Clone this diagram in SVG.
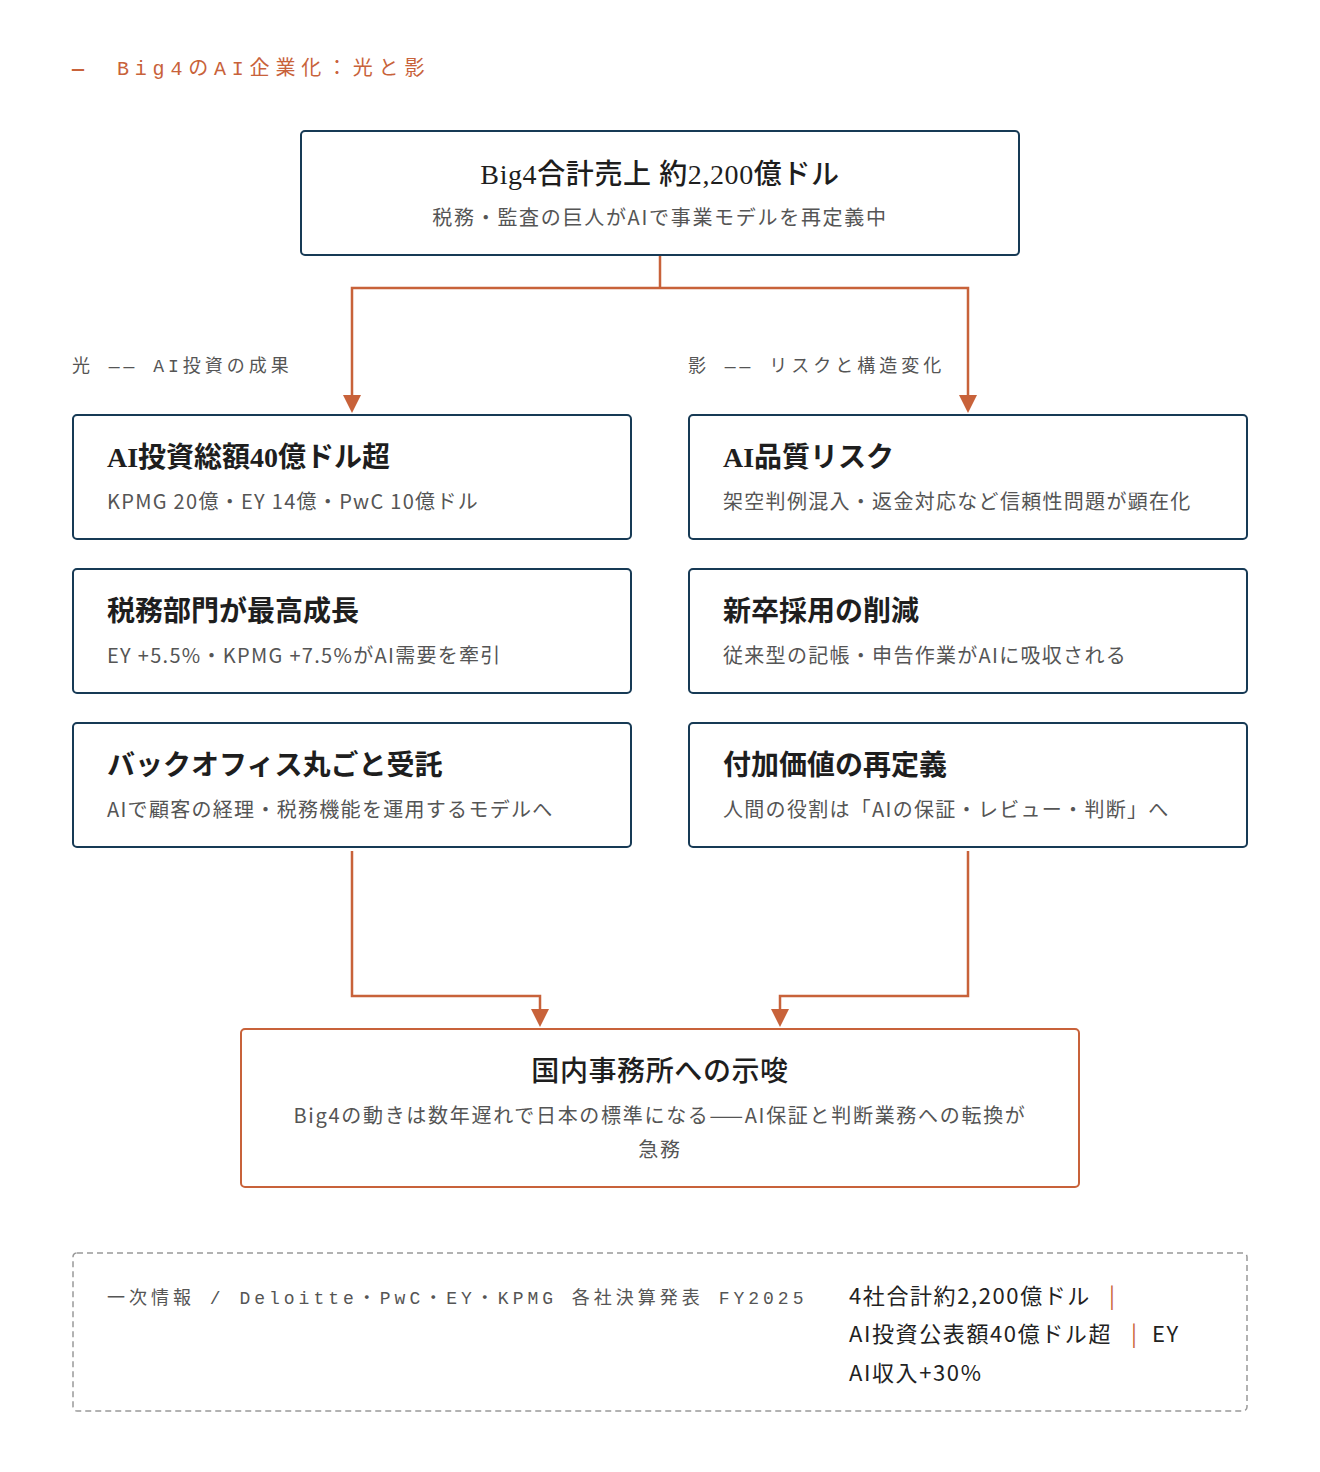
<svg xmlns="http://www.w3.org/2000/svg" width="1320" height="1472" viewBox="0 0 1320 1472">
<style>
.bg{fill:#ffffff}
.node{fill:#ffffff;stroke:#173a55;stroke-width:2}
.nodeO{fill:#ffffff;stroke:#c8623a;stroke-width:2}
.ttl{font-family:"Liberation Serif","Noto Sans CJK JP",serif;font-size:28px;fill:#1e1e1e;font-weight:600}
.ttlc{font-family:"Liberation Serif","Noto Sans CJK JP",serif;font-size:28px;fill:#1e1e1e;font-weight:500;text-anchor:middle;letter-spacing:0.6px}
.sub{font-family:"Noto Sans CJK JP","Noto Sans",sans-serif;font-size:20px;fill:#555555;letter-spacing:1.3px}
.subc{font-family:"Noto Sans CJK JP","Noto Sans",sans-serif;font-size:20px;fill:#555555;letter-spacing:1.7px;text-anchor:middle}
.mono{font-family:"Liberation Mono","DejaVu Sans Mono","Noto Sans CJK JP",monospace;font-size:18px;fill:#555555;letter-spacing:4px}
.head{font-family:"Liberation Mono","DejaVu Sans Mono","Noto Sans CJK JP",monospace;font-size:20px;fill:#c8623a;letter-spacing:5.8px}
.conn{fill:none;stroke:#c8623a;stroke-width:2.5}
.note{fill:none;stroke:#999999;stroke-width:1.5;stroke-dasharray:6 4}
.nt{font-family:"Noto Sans CJK JP","Noto Sans",sans-serif;font-size:22px;fill:#222222;letter-spacing:1.6px}
.sep{fill:#c8623a}
.arrow{fill:#c8623a}
</style>
<rect class="bg" x="0" y="0" width="1320" height="1472"/>

<g id="header">
<text class="head" y="75"><tspan x="72" font-weight="700">—</tspan><tspan x="117">Big4のAI企業化：光と影</tspan></text>
</g>

<g id="connectors">
<path class="conn" d="M660,256 V288"/>
<path class="conn" d="M660,288 H352 V396"/>
<path class="conn" d="M660,288 H968 V396"/>
<polygon class="arrow" points="343,395 361,395 352,413"/>
<polygon class="arrow" points="959,395 977,395 968,413"/>
<path class="conn" d="M352,851 V996 H540 V1010"/>
<path class="conn" d="M968,851 V996 H780 V1010"/>
<polygon class="arrow" points="531,1009 549,1009 540,1027"/>
<polygon class="arrow" points="771,1009 789,1009 780,1027"/>
</g>

<g id="labels">
<text class="mono" x="72" y="372">光 —— AI投資の成果</text>
<text class="mono" x="688" y="372">影 —— リスクと構造変化</text>
</g>

<g id="node-top">
<rect class="node" x="301" y="131" width="718" height="124" rx="4"/>
<text class="ttlc" x="660" y="184">Big4合計売上 約2,200億ドル</text>
<text class="subc" x="660" y="225">税務・監査の巨人がAIで事業モデルを再定義中</text>
</g>

<g id="node-l1">
<rect class="node" x="73" y="415" width="558" height="124" rx="4"/>
<text class="ttl" x="107" y="467">AI投資総額40億ドル超</text>
<text class="sub" x="107" y="509">KPMG 20億・EY 14億・PwC 10億ドル</text>
</g>
<g id="node-l2">
<rect class="node" x="73" y="569" width="558" height="124" rx="4"/>
<text class="ttl" x="107" y="621">税務部門が最高成長</text>
<text class="sub" x="107" y="663">EY +5.5%・KPMG +7.5%がAI需要を牽引</text>
</g>
<g id="node-l3">
<rect class="node" x="73" y="723" width="558" height="124" rx="4"/>
<text class="ttl" x="107" y="775">バックオフィス丸ごと受託</text>
<text class="sub" x="107" y="817">AIで顧客の経理・税務機能を運用するモデルへ</text>
</g>

<g id="node-r1">
<rect class="node" x="689" y="415" width="558" height="124" rx="4"/>
<text class="ttl" x="723" y="467">AI品質リスク</text>
<text class="sub" x="723" y="509">架空判例混入・返金対応など信頼性問題が顕在化</text>
</g>
<g id="node-r2">
<rect class="node" x="689" y="569" width="558" height="124" rx="4"/>
<text class="ttl" x="723" y="621">新卒採用の削減</text>
<text class="sub" x="723" y="663">従来型の記帳・申告作業がAIに吸収される</text>
</g>
<g id="node-r3">
<rect class="node" x="689" y="723" width="558" height="124" rx="4"/>
<text class="ttl" x="723" y="775">付加価値の再定義</text>
<text class="sub" x="723" y="817">人間の役割は「AIの保証・レビュー・判断」へ</text>
</g>

<g id="node-bottom">
<rect class="nodeO" x="241" y="1029" width="838" height="158" rx="4"/>
<text class="ttlc" x="660" y="1081">国内事務所への示唆</text>
<text class="subc" x="660" y="1123">Big4の動きは数年遅れで日本の標準になる——AI保証と判断業務への転換が</text>
<text class="subc" x="660" y="1157">急務</text>
</g>

<g id="note">
<rect class="note" x="73" y="1253" width="1174" height="158" rx="4"/>
<text class="mono" x="107" y="1304">一次情報 / Deloitte・PwC・EY・KPMG 各社決算発表 FY2025</text>
<text class="nt" y="1304"><tspan x="849">4社合計約2,200億ドル</tspan><tspan class="sep" x="1109">|</tspan></text>
<text class="nt" y="1342"><tspan x="849">AI投資公表額40億ドル超</tspan><tspan class="sep" x="1131">|</tspan><tspan x="1152">EY</tspan></text>
<text class="nt" x="849" y="1381">AI収入+30%</text>
</g>
</svg>
